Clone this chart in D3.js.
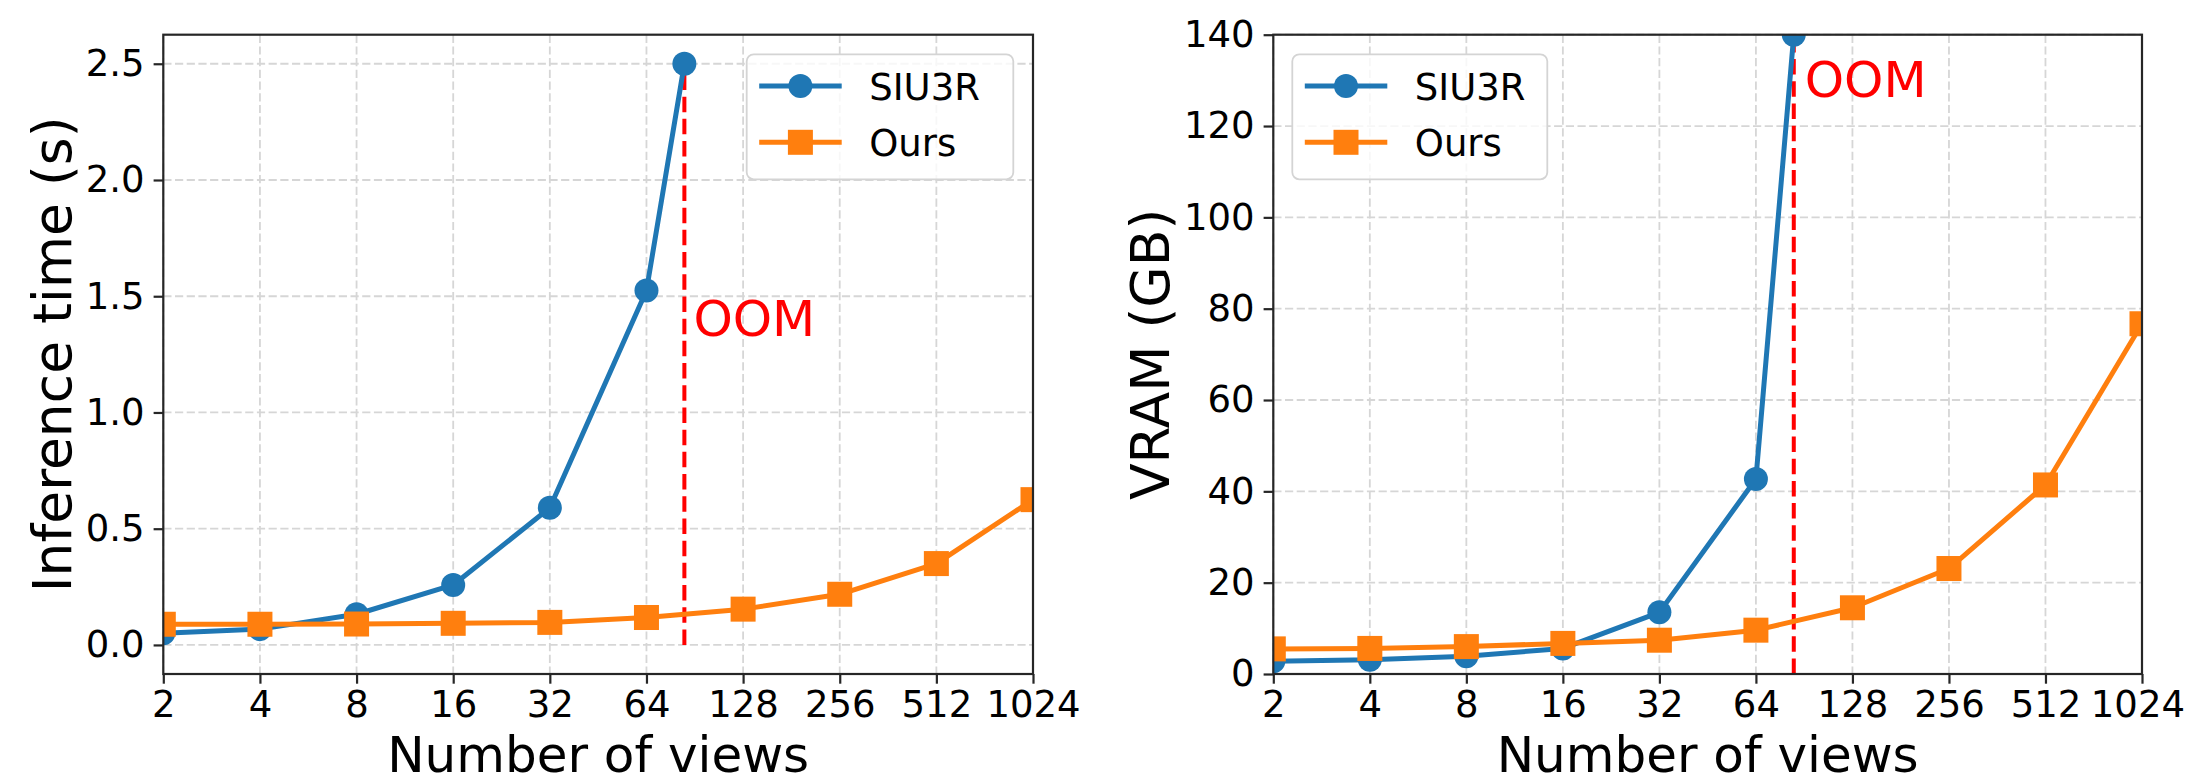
<!DOCTYPE html>
<html>
<head>
<meta charset="utf-8">
<script src="https://cdn.jsdelivr.net/npm/d3@7"></script>
<style>
  html, body { margin: 0; padding: 0; background: #fff; }
  svg { display: block; }
  text { font-family: "DejaVu Sans", sans-serif; fill: #000; }
</style>
</head>
<body>
<svg id="chart" width="2186" height="784"></svg>
<script>
// ---------- data ----------
const views = [2, 4, 8, 16, 32, 64, 128, 256, 512, 1024];
const xTickLabels = ["2", "4", "8", "16", "32", "64", "128", "256", "512", "1024"];
const siuViews = [2, 4, 8, 16, 32, 64, 84];   // last point = OOM limit
const siuTime = [0.05, 0.068, 0.132, 0.258, 0.59, 1.525, 2.5];
const oursTime = [0.089, 0.089, 0.09, 0.093, 0.097, 0.118, 0.154, 0.218, 0.35, 0.625];
const siuVram = [2.8, 3.1, 3.9, 5.6, 13.5, 42.7, 140];
const oursVram = [5.5, 5.6, 6.0, 6.7, 7.4, 9.6, 14.5, 23.1, 41.4, 76.7];
const timeTicks = [0.0, 0.5, 1.0, 1.5, 2.0, 2.5];
const vramTicks = [0, 20, 40, 60, 80, 100, 120, 140];
const oomView = 84;
const seriesNames = ["SIU3R", "Ours"];
const colors = ["#1f77b4", "#ff7f0e"];

// ---------- layout ----------
const svg = d3.select("#chart");
const W = 2186;
const panels = [
  { x0: 163.3, x1: 1033, y0: 34.7, y1: 674, yDomain: [-0.125, 2.625], yTicks: timeTicks,
    yFmt: d3.format(".1f"), ylabel: "Inference time (s)", ylabelX: 71,
    siu: siuTime, ours: oursTime, oomTop: 2.5, oomTextY: 1.328, oomDx: 9,
    legend: { x: 746.7, y: 54.3, w: 266.6, h: 125 } },
  { x0: 1273.3, x1: 2142, y0: 34.7, y1: 674, yDomain: [0, 140], yTicks: vramTicks,
    yFmt: d3.format("d"), ylabel: "VRAM (GB)", ylabelX: 1169,
    siu: siuVram, ours: oursVram, oomTop: 140, oomTextY: 126.3, oomDx: 11,
    legend: { x: 1292.3, y: 54.3, w: 255, h: 125 } }
];

const tickFont = 37, xlabelFont = 50, ylabelFont = 53.5, oomFont = 50, legendFont = 37;
const spine = "#262626";
const lw = 5, mr = 12, sq = 25;

panels.forEach((p, i) => {
  const x = d3.scaleLog().base(2).domain([2, 1024]).range([p.x0, p.x1]);
  const y = d3.scaleLinear().domain(p.yDomain).range([p.y1, p.y0]);
  const g = svg.append("g");

  // clip
  const clipId = "clip" + i;
  svg.append("clipPath").attr("id", clipId)
    .append("rect").attr("x", p.x0).attr("y", p.y0)
    .attr("width", p.x1 - p.x0).attr("height", p.y1 - p.y0);

  // grid
  const grid = g.append("g").attr("stroke", "#d6d6d6").attr("stroke-width", 1.8)
    .attr("stroke-dasharray", "8.2,3.5").attr("fill", "none");
  views.forEach(v => grid.append("line").attr("x1", x(v)).attr("x2", x(v))
    .attr("y1", p.y0).attr("y2", p.y1));
  p.yTicks.forEach(v => grid.append("line").attr("x1", p.x0).attr("x2", p.x1)
    .attr("y1", y(v)).attr("y2", y(v)));

  // axes
  const xAxis = d3.axisBottom(x).tickValues(views).tickFormat((d, k) => xTickLabels[k])
    .tickSize(9.7).tickPadding(7.3).tickSizeOuter(0);
  const yAxis = d3.axisLeft(y).tickValues(p.yTicks).tickFormat(p.yFmt)
    .tickSize(9.7).tickPadding(9).tickSizeOuter(0);
  const gx = g.append("g").attr("transform", `translate(0,${p.y1})`).call(xAxis);
  const gy = g.append("g").attr("transform", `translate(${p.x0},0)`).call(yAxis);
  [gx, gy].forEach(a => {
    a.select(".domain").remove();
    a.selectAll(".tick line").attr("stroke", spine).attr("stroke-width", 2.2);
    a.selectAll(".tick text").attr("font-size", tickFont)
      .attr("font-family", "DejaVu Sans").attr("fill", "#000");
  });
  // keep tick labels inside the page
  gx.selectAll(".tick").each(function () {
    const t = d3.select(this);
    const tr = /translate\(([-\d.]+)/.exec(t.attr("transform"));
    const tx = tr ? +tr[1] : 0;
    const txt = t.select("text");
    const bb = txt.node().getBBox();
    const over = tx + bb.x + bb.width - (W - 1);
    if (over > 0) txt.attr("x", -over);
  });

  // OOM dashed line
  g.append("line").attr("x1", x(oomView)).attr("x2", x(oomView))
    .attr("y1", y(0)).attr("y2", y(p.oomTop))
    .attr("stroke", "#ff0000").attr("stroke-width", 4).attr("stroke-dasharray", "15.5,6.7");

  // series
  const plot = g.append("g").attr("clip-path", `url(#${clipId})`);
  const line = d3.line().x(d => x(d[0])).y(d => y(d[1]));
  const siuPts = siuViews.map((v, k) => [v, p.siu[k]]);
  const oursPts = views.map((v, k) => [v, p.ours[k]]);
  plot.append("path").attr("d", line(siuPts)).attr("fill", "none")
    .attr("stroke", colors[0]).attr("stroke-width", lw).attr("stroke-linejoin", "round");
  plot.selectAll(".mc").data(siuPts).enter().append("circle")
    .attr("cx", d => x(d[0])).attr("cy", d => y(d[1])).attr("r", mr)
    .attr("fill", colors[0]);
  plot.append("path").attr("d", line(oursPts)).attr("fill", "none")
    .attr("stroke", colors[1]).attr("stroke-width", lw).attr("stroke-linejoin", "round");
  plot.selectAll(".ms").data(oursPts).enter().append("rect")
    .attr("x", d => x(d[0]) - sq / 2).attr("y", d => y(d[1]) - sq / 2)
    .attr("width", sq).attr("height", sq).attr("fill", colors[1]);

  // OOM text
  g.append("text").attr("x", x(oomView) + p.oomDx).attr("y", y(p.oomTextY))
    .attr("font-size", oomFont).style("fill", "#ff0000").text("OOM");

  // spines
  g.append("rect").attr("x", p.x0).attr("y", p.y0)
    .attr("width", p.x1 - p.x0).attr("height", p.y1 - p.y0)
    .attr("fill", "none").attr("stroke", spine).attr("stroke-width", 2.2);

  // axis labels
  g.append("text").attr("x", (p.x0 + p.x1) / 2).attr("y", 772)
    .attr("text-anchor", "middle").attr("font-size", xlabelFont).text("Number of views");
  g.append("text").attr("transform", `translate(${p.ylabelX},${(p.y0 + p.y1) / 2}) rotate(-90)`)
    .attr("text-anchor", "middle").attr("font-size", ylabelFont).text(p.ylabel);

  // legend
  const L = p.legend;
  const lg = g.append("g").attr("transform", `translate(${L.x},${L.y})`);
  lg.append("rect").attr("width", L.w).attr("height", L.h).attr("rx", 7)
    .attr("fill", "rgba(255,255,255,0.8)").attr("stroke", "#d4d4d4").attr("stroke-width", 1.8);
  seriesNames.forEach((name, k) => {
    const ry = 31.7 + k * 56.3;
    lg.append("line").attr("x1", 12.5).attr("x2", 95).attr("y1", ry).attr("y2", ry)
      .attr("stroke", colors[k]).attr("stroke-width", lw);
    if (k === 0) {
      lg.append("circle").attr("cx", 53.7).attr("cy", ry).attr("r", mr).attr("fill", colors[k]);
    } else {
      lg.append("rect").attr("x", 53.7 - sq / 2).attr("y", ry - sq / 2)
        .attr("width", sq).attr("height", sq).attr("fill", colors[k]);
    }
    lg.append("text").attr("x", 122.5).attr("y", ry + 13.6)
      .attr("font-size", legendFont).text(name);
  });
});
</script>
</body>
</html>
